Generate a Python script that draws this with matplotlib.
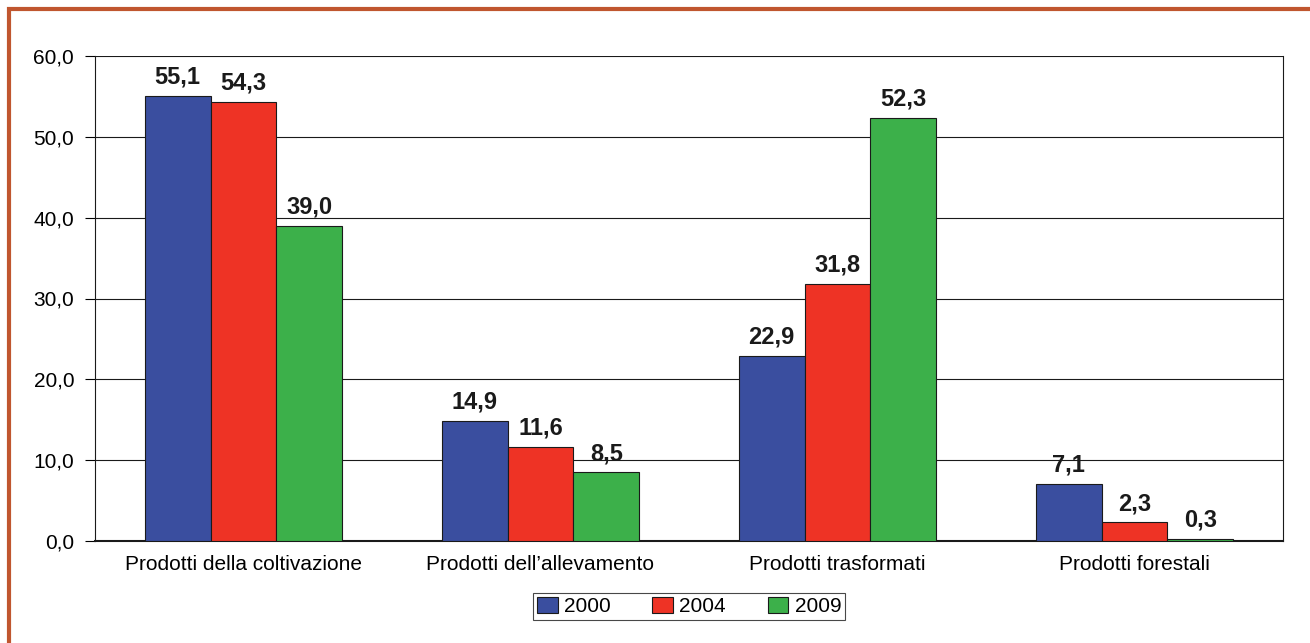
import matplotlib.pyplot as plt
import matplotlib.patches as mpatches
import numpy as np

categories = ['Prodotti della coltivazione', "Prodotti dell\u2019allevamento",
              'Prodotti trasformati', 'Prodotti forestali']
years = ['2000', '2004', '2009']
v2000 = [55.1, 14.9, 22.9, 7.1]
v2004 = [54.3, 11.6, 31.8, 2.3]
v2009 = [39.0, 8.5, 52.3, 0.3]
yticks = [0, 10, 20, 30, 40, 50, 60]

colors = ['#3A4E9F', '#EE3325', '#3CB04A']

plt.rcParams['font.family'] = ['Liberation Sans', 'DejaVu Sans']

fig = plt.figure(figsize=(13.1, 6.43), dpi=100)

# orange frame around the chart
frame = mpatches.Rectangle((9 / 1310, -0.1), 1.2, 1 - 9 / 643 + 0.1,
                           transform=fig.transFigure, fill=False,
                           edgecolor='#C0562F', linewidth=3, clip_on=False)
fig.patches.append(frame)

# caption above the frame, mostly cut off by the figure edge
fig.text(0.003, 1.0065, 'Figura 4 - Composizione percentuale delle esportazioni agroalimentari '
         'per tipologia di prodotto nel periodo (2000-2009)',
         fontsize=15, fontweight='bold', va='baseline', ha='left')

ax = fig.add_axes([95 / 1310, 1 - 541 / 643, (1283 - 95) / 1310, (541 - 56) / 643])

x = np.arange(len(categories))
w = 0.222
for i, (vals, yr) in enumerate(zip([v2000, v2004, v2009], years)):
    bars = ax.bar(x + (i - 1) * w, vals, width=w, color=colors[i],
                  edgecolor='#1a1a1a', linewidth=0.8, label=yr, zorder=3)
    for b, v in zip(bars, vals):
        ax.text(b.get_x() + b.get_width() / 2, v + 0.9, f'{v:.1f}'.replace('.', ','),
                ha='center', va='bottom', fontsize=17, fontweight='bold', color='#1a1a1a')

ax.set_xlim(-0.5, 3.5)
ax.set_ylim(0, 60)
ax.set_yticks(yticks)
ax.set_yticklabels([f'{t:.1f}'.replace('.', ',') for t in yticks], fontsize=15)
ax.yaxis.grid(True, color='#1a1a1a', linewidth=0.8, zorder=0)
ax.set_xticks(x)
ax.set_xticklabels(categories, fontsize=15)
ax.tick_params(axis='x', length=0, pad=10)
ax.tick_params(axis='y', length=7, width=0.8, pad=8)
for side in ['left', 'bottom', 'right']:
    ax.spines[side].set_color('#1a1a1a')
    ax.spines[side].set_linewidth(0.8)
ax.spines['top'].set_visible(False)
ax.spines['bottom'].set_linewidth(1.5)

leg = ax.legend(loc='upper center', bbox_to_anchor=(0.5, -0.085), ncol=3,
                fontsize=15, frameon=True, fancybox=False, edgecolor='#1a1a1a',
                handlelength=1.0, handleheight=0.8, handletextpad=0.3,
                columnspacing=2.0, borderpad=0.2)
leg.get_frame().set_linewidth(0.8)

fig.savefig('out.png', dpi=100)
